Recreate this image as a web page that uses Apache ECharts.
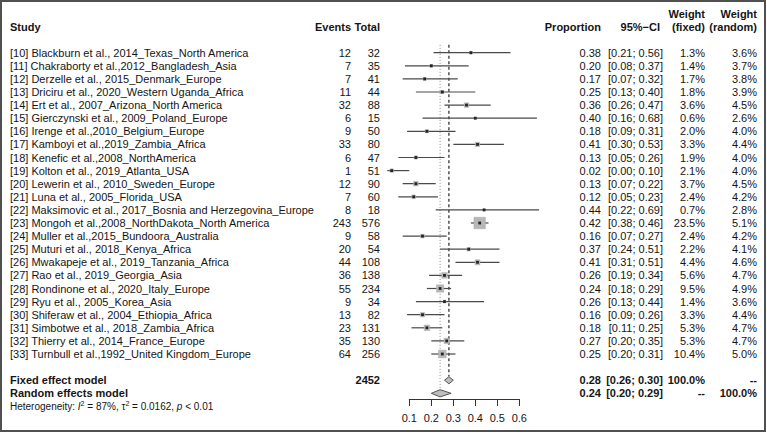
<!DOCTYPE html>
<html><head><meta charset="utf-8">
<script src="https://cdn.jsdelivr.net/npm/echarts@6/dist/echarts.min.js"></script>
<style>html,body{margin:0;padding:0;background:#fff}#c{width:767px;height:433px}</style>
</head><body><div id="c"></div>
<script>
const studies = [
  "[10] Blackburn et al., 2014_Texas_North America",
  "[11] Chakraborty et al.,2012_Bangladesh_Asia",
  "[12] Derzelle et al., 2015_Denmark_Europe",
  "[13] Driciru et al., 2020_Western Uganda_Africa",
  "[14] Ert et al., 2007_Arizona_North America",
  "[15] Gierczynski et al., 2009_Poland_Europe",
  "[16] Irenge et al.,2010_Belgium_Europe",
  "[17] Kamboyi et al.,2019_Zambia_Africa",
  "[18] Kenefic et al.,2008_NorthAmerica",
  "[19] Kolton et al., 2019_Atlanta_USA",
  "[20] Lewerin et al., 2010_Sweden_Europe",
  "[21] Luna et al., 2005_Florida_USA",
  "[22] Maksimovic et al., 2017_Bosnia and Herzegovina_Europe",
  "[23] Mongoh et al.,2008_NorthDakota_North America",
  "[24] Muller et al.,2015_Bundoora_Australia",
  "[25] Muturi et al., 2018_Kenya_Africa",
  "[26] Mwakapeje et al., 2019_Tanzania_Africa",
  "[27] Rao et al., 2019_Georgia_Asia",
  "[28] Rondinone et al., 2020_Italy_Europe",
  "[29] Ryu et al., 2005_Korea_Asia",
  "[30] Shiferaw et al., 2004_Ethiopia_Africa",
  "[31] Simbotwe et al., 2018_Zambia_Africa",
  "[32] Thierry et al., 2014_France_Europe",
  "[33] Turnbull et al.,1992_United Kingdom_Europe"
];
const events = [12,7,7,11,32,6,9,33,6,1,12,7,8,243,9,20,44,36,55,9,13,23,35,64];
const totals = [32,35,41,44,88,15,50,80,47,51,90,60,18,576,58,54,108,138,234,34,82,131,130,256];
const proportion = [0.38,0.20,0.17,0.25,0.36,0.40,0.18,0.41,0.13,0.02,0.13,0.12,0.44,0.42,0.16,0.37,0.41,0.26,0.24,0.26,0.16,0.18,0.27,0.25];
const ciLower = [0.21,0.08,0.07,0.13,0.26,0.16,0.09,0.30,0.05,0.00,0.07,0.05,0.22,0.38,0.07,0.24,0.31,0.19,0.18,0.13,0.09,0.11,0.20,0.20];
const ciUpper = [0.56,0.37,0.32,0.40,0.47,0.68,0.31,0.53,0.26,0.10,0.22,0.23,0.69,0.46,0.27,0.51,0.51,0.34,0.29,0.44,0.26,0.25,0.35,0.31];
const weightFixed = [1.3,1.4,1.7,1.8,3.6,0.6,2.0,3.3,1.9,2.1,3.7,2.4,0.7,23.5,2.4,2.2,4.4,5.6,9.5,1.4,3.3,5.3,5.3,10.4];
const weightRandom = [3.6,3.7,3.8,3.9,4.5,2.6,4.0,4.4,4.0,4.0,4.5,4.2,2.8,5.1,4.2,4.1,4.6,4.7,4.9,3.6,4.4,4.7,4.7,5.0];

const summaryLabels = ["Fixed effect model", "Random effects model"];
const summaryProp = [0.28, 0.24];
const summaryLower = [0.26, 0.20];
const summaryUpper = [0.30, 0.29];
const summaryWFixed = ["100.0%", "--"];
const summaryWRandom = ["--", "100.0%"];
const summaryTotal = 2452;
const axisTicks = [0.1, 0.2, 0.3, 0.4, 0.5, 0.6];

const FONT = '"Liberation Sans", Arial, Helvetica, sans-serif';
const TXT = '#151515';
const COL = {study:10, events:351, total:380, prop:601, ci:663, wf:705, wr:757};
const nS = studies.length;
const FIXED_ROW = nS + 1, RANDOM_ROW = nS + 2, HET_ROW = nS + 3;

function fmtCI(lo, hi){ return '[' + lo.toFixed(2) + '; ' + hi.toFixed(2) + ']'; }
function txt(text, x, y, align, bold, size){
  return {type:'text', style:{text:String(text), x:x, y:y, align:align||'left', verticalAlign:'middle',
    fontSize:size||11, fontFamily:FONT, fontWeight:bold?'bold':'normal', fill:TXT}};
}

const chart = echarts.init(document.getElementById('c'), null, {renderer:'svg'});

const option = {
  animation:false,
  backgroundColor:'#fff',
  grid:[
    {left:387.3, width:154, top:13.4, height:406.1},
    {left:409.3, width:110, top:398, height:1}
  ],
  xAxis:[
    {gridIndex:0, type:'value', min:0, max:0.7, show:false},
    {gridIndex:1, type:'value', min:0.1, max:0.6, interval:0.1,
      axisLine:{show:true, lineStyle:{color:'#333', width:1}},
      axisTick:{show:true, length:7, lineStyle:{color:'#333', width:1}},
      axisLabel:{margin:13, fontSize:11, fontFamily:FONT, color:TXT, formatter:v=>v.toFixed(1)},
      splitLine:{show:false}}
  ],
  yAxis:[
    {gridIndex:0, type:'value', min:-3, max:28, inverse:true, show:false},
    {gridIndex:1, type:'value', min:0, max:1, show:false}
  ],
  graphic:[
    {type:'rect', shape:{x:1, y:1, width:764, height:430}, style:{fill:'none', stroke:'#505050', lineWidth:2}, z:100}
  ],
  series:[
    // reference lines (fixed: dashed, random: dotted)
    {type:'custom', coordinateSystem:'cartesian2d', xAxisIndex:0, yAxisIndex:0, clip:false, z:1,
      data:[[summaryProp[0], FIXED_ROW, 0],[summaryProp[1], RANDOM_ROW, 1]],
      renderItem:function(p, api){
        const x = api.value(0), r = api.value(1), k = api.value(2);
        const a = api.coord([x, -0.6]), b = api.coord([x, r - 0.3]);
        return {type:'line', shape:{x1:a[0], y1:a[1], x2:b[0], y2:b[1]},
          style:k===0 ? {stroke:'#333', lineWidth:1.3, lineDash:[3,2.5]} : {stroke:'#888', lineWidth:1, lineDash:[1,2]}};
      }},
    // CI lines
    {type:'custom', coordinateSystem:'cartesian2d', xAxisIndex:0, yAxisIndex:0, clip:false, z:2,
      data:studies.map((s,i)=>[ciLower[i], ciUpper[i], i]),
      renderItem:function(p, api){
        const a = api.coord([api.value(0), api.value(2)]), b = api.coord([api.value(1), api.value(2)]);
        return {type:'line', shape:{x1:a[0], y1:a[1], x2:b[0], y2:b[1]}, style:{stroke:'#4a4a4a', lineWidth:1.2}};
      }},
    // weight squares + point estimate
    {type:'custom', coordinateSystem:'cartesian2d', xAxisIndex:0, yAxisIndex:0, clip:false, z:3,
      data:studies.map((s,i)=>[proportion[i], i, weightFixed[i]]),
      renderItem:function(p, api){
        const c = api.coord([api.value(0), api.value(1)]);
        const side = 11.5 * Math.sqrt(api.value(2) / 23.5);
        return {type:'group', children:[
          {type:'rect', shape:{x:c[0]-side/2, y:c[1]-side/2, width:side, height:side}, style:{fill:'#b8b8b8', stroke:'#a8a8a8', lineWidth:0.5}},
          {type:'rect', shape:{x:c[0]-1.4, y:c[1]-1.4, width:2.8, height:2.8}, style:{fill:'#222'}}
        ]};
      }},
    // summary diamonds
    {type:'custom', coordinateSystem:'cartesian2d', xAxisIndex:0, yAxisIndex:0, clip:false, z:3,
      data:summaryProp.map((v,i)=>[v, summaryLower[i], summaryUpper[i], FIXED_ROW + i]),
      renderItem:function(p, api){
        const r = api.value(3);
        const c = api.coord([api.value(0), r]), l = api.coord([api.value(1), r]), h = api.coord([api.value(2), r]);
        const hh = 3.6;
        return {type:'polygon', shape:{points:[[l[0],c[1]],[c[0],c[1]-hh],[h[0],c[1]],[c[0],c[1]+hh]]},
          style:{fill:'#bdbdbd', stroke:'#555', lineWidth:1}};
      }},
    // table text
    {type:'custom', coordinateSystem:'cartesian2d', xAxisIndex:0, yAxisIndex:0, clip:false, z:5,
      data:studies.map((s,i)=>[0, i]),
      renderItem:function(p, api){
        const i = api.value(1);
        const y = api.coord([0, i])[1];
        return {type:'group', children:[
          txt(studies[i], COL.study, y, 'left'),
          txt(events[i], COL.events, y, 'right'),
          txt(totals[i], COL.total, y, 'right'),
          txt(proportion[i].toFixed(2), COL.prop, y, 'right'),
          txt(fmtCI(ciLower[i], ciUpper[i]), COL.ci, y, 'right'),
          txt(weightFixed[i].toFixed(1) + '%', COL.wf, y, 'right'),
          txt(weightRandom[i].toFixed(1) + '%', COL.wr, y, 'right')
        ]};
      }},
    // summary rows + headers + heterogeneity
    {type:'custom', coordinateSystem:'cartesian2d', xAxisIndex:0, yAxisIndex:0, clip:false, z:5,
      data:[[0, FIXED_ROW, 0],[0, RANDOM_ROW, 1],[0, -2, 2],[0, HET_ROW, 3]],
      renderItem:function(p, api){
        const r = api.value(1), k = api.value(2);
        const y = api.coord([0, r])[1];
        if (k === 2) {
          const y0 = api.coord([0, r - 0.95])[1];
          return {type:'group', children:[
            txt('Study', COL.study, y, 'left', true),
            txt('Events', COL.events, y, 'right', true),
            txt('Total', COL.total, y, 'right', true),
            txt('Proportion', COL.prop, y, 'right', true),
            txt('95%\u2212CI', COL.ci - 3, y, 'right', true),
            txt('Weight', COL.wf, y0, 'right', true),
            txt('(fixed)', COL.wf, y, 'right', true),
            txt('Weight', COL.wr, y0, 'right', true),
            txt('(random)', COL.wr, y, 'right', true)
          ]};
        }
        if (k === 3) {
          return {type:'text', style:{
            text:'Heterogeneity: {it|I}{sup|2} = 87%, \u03c4{sup|2} = 0.0162, {it|p} < 0.01',
            x:COL.study, y:y, align:'left', verticalAlign:'middle', fontSize:10, fontFamily:FONT, fill:TXT,
            rich:{it:{fontStyle:'italic', fontSize:10, fontFamily:FONT, fill:TXT},
                  sup:{fontSize:7, fontFamily:FONT, fill:TXT, verticalAlign:'top', padding:[0,0,6,0]}}}};
        }
        const ch = [
          txt(summaryLabels[k], COL.study, y, 'left', true),
          txt(summaryProp[k].toFixed(2), COL.prop, y, 'right', true),
          txt(fmtCI(summaryLower[k], summaryUpper[k]), COL.ci, y, 'right', true),
          txt(summaryWFixed[k], COL.wf, y, 'right', true),
          txt(summaryWRandom[k], COL.wr, y, 'right', true)
        ];
        if (k === 0) ch.push(txt(summaryTotal, COL.total, y, 'right', true));
        return {type:'group', children:ch};
      }},
    // dummy series for axis grid
    {type:'scatter', xAxisIndex:1, yAxisIndex:1, data:[], silent:true}
  ]
};
chart.setOption(option);
</script>
</body></html>
